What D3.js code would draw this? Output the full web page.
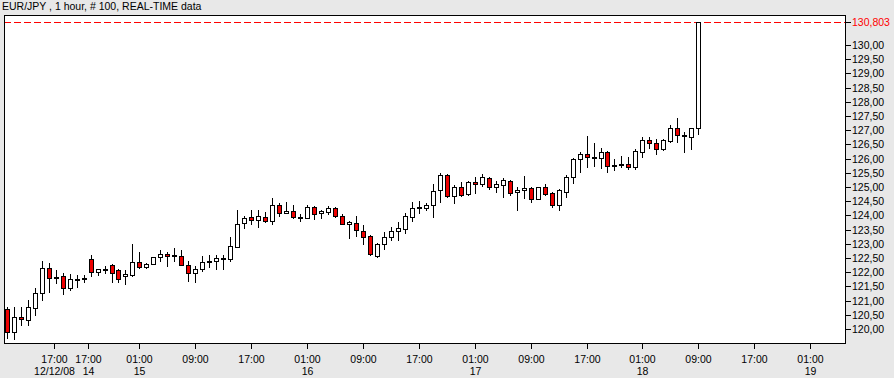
<!DOCTYPE html>
<html>
<head>
<meta charset="utf-8">
<script src="https://cdn.jsdelivr.net/npm/d3@7"></script>
<style>
    body { margin: 0; background: #e8e8e8; }
    svg { display: block; font-family: "Liberation Sans", Arial, sans-serif; }
</style>
</head>
<body>
<div id="chart"></div>
<script>
// Hourly EUR/JPY bars (bar index 0..99)
let opens = [
    120.70, 119.88, 120.42, 120.33, 120.73, 121.26, 122.14, 121.84, 121.87, 121.45,
    121.77, 121.78, 122.45, 122.02, 122.13, 122.24, 122.07, 121.86, 121.90, 122.35,
    122.19, 122.28, 122.52, 122.63, 122.60, 122.56, 122.24, 121.96, 122.10, 122.38,
    122.38, 122.50, 122.45, 122.90, 123.72, 123.93, 123.83, 123.93, 123.80, 124.36,
    124.07, 124.15, 123.96, 123.92, 124.29, 124.07, 124.13, 124.25, 123.98, 123.70,
    123.72, 123.45, 123.27, 122.58, 123.00, 123.23, 123.44, 123.51, 123.93, 124.28,
    124.27, 124.36, 124.88, 125.42, 124.68, 125.00, 124.74, 125.18, 125.10, 125.31,
    124.99, 125.06, 125.20, 124.81, 124.88, 124.95, 124.59, 124.99, 124.78, 124.36,
    124.83, 125.36, 125.98, 126.15, 126.06, 126.03, 126.23, 125.77, 125.81, 125.80,
    125.72, 126.22, 126.64, 126.54, 126.33, 126.63, 127.07, 126.82, 126.77, 127.07
];
let highs = [
    120.76, 120.76, 120.76, 121.02, 121.43, 122.39, 122.31, 122.08, 121.96, 121.94,
    121.90, 121.90, 122.61, 122.10, 122.22, 122.29, 122.10, 122.08, 122.99, 122.72,
    122.31, 122.52, 122.78, 122.72, 122.86, 122.77, 122.39, 122.22, 122.57, 122.61,
    122.61, 122.61, 123.25, 124.19, 123.99, 124.19, 124.19, 124.11, 124.60, 124.43,
    124.48, 124.37, 124.04, 124.37, 124.34, 124.19, 124.33, 124.29, 124.04, 123.80,
    123.98, 123.66, 123.31, 123.02, 123.43, 123.58, 123.78, 124.08, 124.48, 124.52,
    124.43, 125.11, 125.48, 125.45, 125.07, 125.19, 125.22, 125.36, 125.46, 125.36,
    125.22, 125.31, 125.25, 125.01, 125.39, 124.99, 125.01, 125.11, 124.81, 124.92,
    125.42, 126.01, 126.24, 126.80, 126.54, 126.36, 126.27, 125.98, 126.09, 126.06,
    126.33, 126.77, 126.77, 126.69, 126.69, 127.18, 127.42, 126.95, 127.09, 130.803
];
let lows = [
    119.67, 119.65, 120.14, 120.14, 120.49, 121.02, 121.31, 121.61, 121.23, 121.37,
    121.49, 121.67, 121.88, 121.90, 121.96, 121.67, 121.64, 121.60, 121.88, 122.14,
    122.14, 122.28, 122.39, 122.23, 122.40, 122.24, 121.70, 121.67, 122.04, 122.19,
    122.10, 122.10, 122.39, 122.88, 123.57, 123.69, 123.60, 123.78, 123.69, 123.99,
    124.07, 123.90, 123.80, 123.90, 123.86, 123.92, 124.04, 123.93, 123.69, 123.21,
    123.27, 122.99, 122.59, 122.54, 122.81, 123.13, 123.13, 123.37, 123.81, 124.07,
    124.19, 123.95, 124.48, 124.66, 124.45, 124.69, 124.71, 124.80, 125.04, 124.94,
    124.83, 124.66, 124.71, 124.19, 124.60, 124.48, 124.57, 124.72, 124.29, 124.19,
    124.64, 125.13, 125.54, 125.72, 125.75, 125.68, 125.52, 125.60, 125.72, 125.63,
    125.63, 126.07, 126.36, 126.17, 126.30, 126.60, 126.57, 126.24, 126.34, 126.86
];
let closes = [
    119.88, 120.41, 120.34, 120.76, 121.26, 122.14, 121.81, 121.82, 121.45, 121.75,
    121.76, 121.77, 122.02, 122.10, 122.12, 121.96, 121.75, 121.94, 122.35, 122.19,
    122.29, 122.52, 122.64, 122.56, 122.59, 122.24, 121.96, 122.10, 122.35, 122.37,
    122.50, 122.49, 122.91, 123.69, 123.90, 123.83, 123.97, 123.79, 124.36, 124.07,
    124.15, 123.95, 123.95, 124.29, 124.04, 124.15, 124.25, 123.98, 123.69, 123.77,
    123.48, 123.25, 122.63, 122.98, 123.23, 123.45, 123.56, 123.97, 124.25, 124.27,
    124.36, 124.87, 125.42, 124.68, 125.00, 124.73, 125.17, 125.10, 125.34, 124.99,
    125.10, 125.24, 124.80, 124.88, 124.95, 124.57, 124.99, 124.74, 124.36, 124.88,
    125.34, 125.98, 126.15, 126.05, 126.05, 126.22, 125.75, 125.76, 125.80, 125.72,
    126.27, 126.65, 126.54, 126.33, 126.65, 127.07, 126.83, 126.81, 127.07, 130.803
];

// time axis: bar index of each tick, hour label and day label
let tickIndex = [6.8, 11.7, 19, 27, 35, 43, 51, 59, 67, 75, 83, 91, 99, 107, 115];
let tickHours = ["17:00", "17:00", "01:00", "09:00", "17:00", "01:00", "09:00", "17:00",
                 "01:00", "09:00", "17:00", "01:00", "09:00", "17:00", "01:00"];
let tickDays = ["12/12/08", "14", "15", "", "", "16", "", "", "17", "", "", "18", "", "", "19"];

// price axis
let priceTicks = d3.range(120, 130.01, 0.5);
let lastPrice = 130.803;
let title = "EUR/JPY , 1 hour, # 100, REAL-TIME data";

function createChart() {
    let data = opens.map((o, i) => ({
        i: i, open: o, high: highs[i], low: lows[i], close: closes[i]
    }));

    const W = 894, H = 378;
    const plot = { left: 4, top: 15, right: 845, bottom: 343 };

    let xScale = d3.scaleLinear()
        .domain([-0.39, 120])
        .range([plot.left, plot.right]);

    let yScale = d3.scaleLinear()
        .domain([120, 130])
        .range([329, 45]);

    let svg = d3.select('#chart')
        .append('svg')
        .attr('width', W)
        .attr('height', H);

    svg.append('rect')
        .attr('width', W)
        .attr('height', H)
        .attr('fill', '#e8e8e8');

    svg.append('text')
        .attr('x', 2)
        .attr('y', 10)
        .style('font-size', '10.5px')
        .attr('fill', '#000')
        .text(title);

    // plot area
    svg.append('rect')
        .attr('x', plot.left + 0.5)
        .attr('y', plot.top + 0.5)
        .attr('width', plot.right - plot.left)
        .attr('height', plot.bottom - plot.top)
        .attr('fill', '#fff');

    svg.append('clipPath')
        .attr('id', 'clip')
        .append('rect')
        .attr('x', plot.left + 1)
        .attr('y', plot.top + 1)
        .attr('width', plot.right - plot.left - 1)
        .attr('height', plot.bottom - plot.top - 1);

    let g = svg.append('g').attr('clip-path', 'url(#clip)');

    // last price line
    let yLast = Math.round(yScale(lastPrice)) + 0.5;
    g.append('line')
        .attr('x1', plot.left)
        .attr('x2', plot.right)
        .attr('y1', yLast)
        .attr('y2', yLast)
        .attr('stroke', '#ff0000')
        .attr('stroke-dasharray', '7 3');

    // candles
    let candles = g.selectAll('.candle')
        .data(data)
        .enter()
        .append('g')
        .attr('class', 'candle');

    candles.append('line')
        .attr('x1', d => Math.round(xScale(d.i)) + 0.5)
        .attr('x2', d => Math.round(xScale(d.i)) + 0.5)
        .attr('y1', d => Math.round(yScale(d.high)))
        .attr('y2', d => Math.round(yScale(d.low)) + 1)
        .attr('stroke', '#000')
        .attr('stroke-width', 1);

    candles.append('rect')
        .attr('x', d => Math.round(xScale(d.i)) - 2 + 0.5)
        .attr('y', d => Math.round(yScale(Math.max(d.open, d.close))) + 0.5)
        .attr('width', 4)
        .attr('height', d => Math.max(1, Math.round(yScale(Math.min(d.open, d.close))) - Math.round(yScale(Math.max(d.open, d.close)))))
        .attr('fill', d => d.close < d.open ? '#ee0000' : '#fff')
        .attr('stroke', '#000')
        .attr('stroke-width', 1);

    // frame
    svg.append('rect')
        .attr('x', plot.left + 0.5)
        .attr('y', plot.top + 0.5)
        .attr('width', plot.right - plot.left)
        .attr('height', plot.bottom - plot.top)
        .attr('fill', 'none')
        .attr('stroke', '#000');

    // right price axis
    let yAxis = svg.append('g')
        .style('font-size', '10.5px');
    let yt = yAxis.selectAll('.ytick')
        .data(priceTicks)
        .enter()
        .append('g')
        .attr('class', 'ytick')
        .attr('transform', d => `translate(0, ${Math.round(yScale(d)) + 0.5})`);
    yt.append('line')
        .attr('x1', plot.right + 1)
        .attr('x2', plot.right + 6)
        .attr('stroke', '#000');
    yt.append('text')
        .attr('x', plot.right + 7)
        .attr('dy', '0.35em')
        .attr('fill', '#000')
        .text(d => d.toFixed(2).replace('.', ','));

    yAxis.append('line')
        .attr('x1', plot.right + 1)
        .attr('x2', plot.right + 6)
        .attr('y1', yLast)
        .attr('y2', yLast)
        .attr('stroke', '#000');
    yAxis.append('text')
        .attr('x', plot.right + 7)
        .attr('y', yLast)
        .attr('dy', '0.35em')
        .attr('fill', '#ff0000')
        .text(String(lastPrice).replace('.', ','));

    // bottom time axis
    let xAxis = svg.append('g')
        .style('font-size', '10.5px')
        .attr('text-anchor', 'middle');
    let xt = xAxis.selectAll('.xtick')
        .data(tickIndex)
        .enter()
        .append('g')
        .attr('class', 'xtick')
        .attr('transform', d => `translate(${Math.round(xScale(d)) + 0.5}, 0)`);
    xt.append('line')
        .attr('y1', plot.bottom + 1)
        .attr('y2', plot.bottom + 6)
        .attr('stroke', '#000');
    xt.append('text')
        .attr('y', 363)
        .attr('fill', '#000')
        .text((d, i) => tickHours[i]);
    xt.append('text')
        .attr('y', 375)
        .attr('fill', '#000')
        .text((d, i) => tickDays[i]);
}

createChart();
</script>
</body>
</html>
